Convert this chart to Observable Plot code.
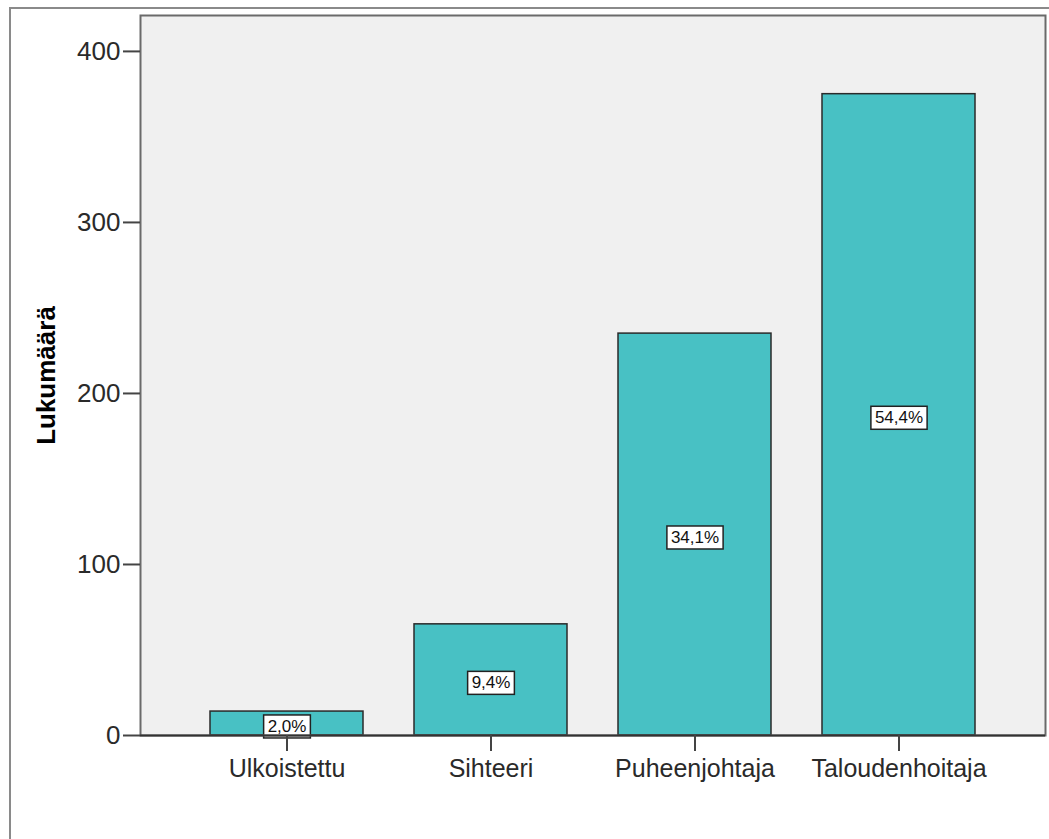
<!DOCTYPE html>
<html>
<head>
<meta charset="utf-8">
<script src="https://cdn.jsdelivr.net/npm/d3@7"></script>
<script src="https://cdn.jsdelivr.net/npm/@observablehq/plot@0.6"></script>
<style>
  html, body { margin: 0; padding: 0; background: #fff; }
  #wrap { position: relative; width: 1049px; height: 839px; overflow: hidden; }
  #border { position: absolute; left: 9px; top: 7px; width: 1100px; height: 900px;
            border-left: 2px solid #8a8a8a; border-top: 2px solid #8a8a8a; box-sizing: border-box; }
  #chart { position: absolute; left: 0; top: 0; }
</style>
</head>
<body>
<div id="wrap"><div id="border"></div><div id="chart"></div></div>
<script>
const categories = ["Ulkoistettu", "Sihteeri", "Puheenjohtaja", "Taloudenhoitaja"];
const counts = [14, 65, 235, 375];
const percents = [2.0, 9.4, 34.1, 54.4];
const yTicks = [0, 100, 200, 300, 400];
const yLabel = "Lukumäärä";

const data = categories.map((c, i) => ({category: c, count: counts[i], pct: percents[i]}));
const fmt = p => p.toFixed(1).replace(".", ",") + "%";

const chart = Plot.plot({
  width: 1049,
  height: 839,
  marginLeft: 140,
  marginRight: 4,
  marginTop: 15,
  marginBottom: 104,
  style: {fontFamily: "'Liberation Sans', Arial, sans-serif", background: "transparent", color: "#2a2a2a"},
  x: {type: "band", domain: categories, paddingInner: 0.25, paddingOuter: 0.343},
  y: {domain: [0, 421]},
  marks: [
    Plot.frame({fill: "#f0f0f0", stroke: null}),
    Plot.barY(data, {x: "category", y: "count", fill: "#48c1c4", stroke: "#2a2a2a", strokeWidth: 1.5}),
    Plot.text(data, {x: "category", y: d => d.count / 2, text: d => fmt(d.pct), fontSize: 17, fill: "#111", dy: 3}),
    Plot.frame({stroke: "#6a6a6a", strokeWidth: 2}),
    Plot.ruleY([0], {stroke: "#333", strokeWidth: 2}),
    Plot.axisY({ticks: yTicks, tickSize: 17, tickPadding: 3, fontSize: 26, label: yLabel, labelAnchor: "center", labelArrow: "none", labelOffset: 104, stroke: "#444", strokeWidth: 2}),
    Plot.axisX({tickSize: 16, tickPadding: 8, fontSize: 25, label: null, stroke: "#444", strokeWidth: 2})
  ]
});
document.getElementById("chart").appendChild(chart);

// y label bold
d3.select(chart).selectAll('g[aria-label="y-axis label"] text').attr("font-weight", "bold").attr("fill", "#000");

// white boxes behind percentage labels
d3.select(chart).selectAll('g[aria-label="text"] text').each(function() {
  const b = this.getBBox();
  const padX = 4, padY = 2;
  const r = document.createElementNS("http://www.w3.org/2000/svg", "rect");
  r.setAttribute("x", b.x - padX);
  r.setAttribute("y", b.y - padY);
  r.setAttribute("width", b.width + 2 * padX);
  r.setAttribute("height", b.height + 2 * padY);
  r.setAttribute("fill", "#fff");
  r.setAttribute("stroke", "#222");
  r.setAttribute("stroke-width", "1.5");
  const t = this.getAttribute("transform");
  if (t) r.setAttribute("transform", t);
  this.parentNode.insertBefore(r, this);
});
</script>
</body>
</html>
